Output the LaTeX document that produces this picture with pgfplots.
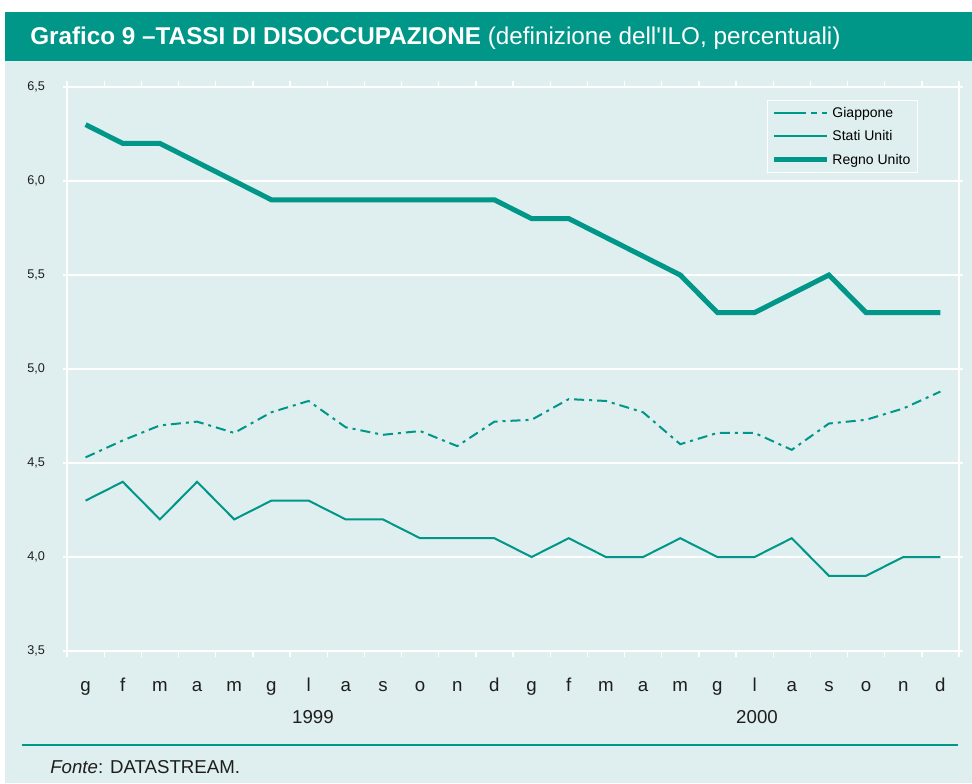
\documentclass[border=0pt]{standalone}
\usepackage{pgfplots}
\pgfplotsset{compat=1.18}
\usepackage{pgfplotstable}
\usepackage{fontspec}
\setmainfont{Liberation Sans}
\definecolor{teal1}{RGB}{0,150,136}
\definecolor{bgc}{RGB}{223,238,238}
\definecolor{txt}{RGB}{30,30,30}

\pgfplotstableread{
x jp us uk
0 4.53 4.3 6.3
1 4.62 4.4 6.2
2 4.70 4.2 6.2
3 4.72 4.4 6.1
4 4.66 4.2 6.0
5 4.77 4.3 5.9
6 4.83 4.3 5.9
7 4.69 4.2 5.9
8 4.65 4.2 5.9
9 4.67 4.1 5.9
10 4.59 4.1 5.9
11 4.72 4.1 5.9
12 4.73 4.0 5.8
13 4.84 4.1 5.8
14 4.83 4.0 5.7
15 4.77 4.0 5.6
16 4.60 4.1 5.5
17 4.66 4.0 5.3
18 4.66 4.0 5.3
19 4.57 4.1 5.4
20 4.71 3.9 5.5
21 4.73 3.9 5.3
22 4.79 4.0 5.3
23 4.88 4.0 5.3
}\datatable

\begin{document}
\begin{tikzpicture}
\begin{scope}[x=0.75pt,y=-0.75pt]
\path[use as bounding box] (0,0) rectangle (972,783);
\fill[white] (0,0) rectangle (972,783);
\fill[bgc] (5,61) rectangle (972,783);
\fill[teal1] (5,12) rectangle (972,61);
\node[anchor=base west, text=white, font=\fontsize{18.2}{20}\selectfont, inner sep=0] at (30,44) {\textbf{Grafico 9 –TASSI DI DISOCCUPAZIONE} (definizione dell\textquotesingle ILO, percentuali)};
\draw[teal1, line width=1.5pt] (22,745) -- (958,745);
\node[anchor=base west, font=\fontsize{14}{16}\selectfont, inner sep=0, text=txt] at (50,773) {\textit{Fonte}: DATASTREAM.};
\node[anchor=base, font=\fontsize{14}{16}\selectfont, inner sep=0, text=txt] at (313,723) {1999};
\node[anchor=base, font=\fontsize{14}{16}\selectfont, inner sep=0, text=txt] at (757,723) {2000};
\end{scope}
\begin{axis}[
  at={(50.25pt,-488.25pt)}, anchor=south west,
  scale only axis, width=669pt, height=423pt,
  xmin=-0.5, xmax=23.5, ymin=3.5, ymax=6.5,
  axis line style={white, line width=1.2pt},
  axis background/.style={fill=bgc},
  ytick={3.5,4,...,6.5},
  ymajorgrids, grid style={white, line width=1.2pt},
  xtick={0,...,23},
  xticklabels={g,f,m,a,m,g,l,a,s,o,n,d,g,f,m,a,m,g,l,a,s,o,n,d},
  minor xtick={-0.5,0.5,...,23.5},
  tick align=outside,
  major tick length=3pt,
  minor tick length=4.5pt,
  major x tick style={draw=none},
  minor x tick style={white, line width=1pt},
  major y tick style={white, line width=1pt},
  tick label style={text=txt},
  xticklabel style={font=\fontsize{14}{16}\selectfont, anchor=base, inner sep=0pt, yshift=-27pt},
  yticklabel style={font=\fontsize{9.5}{11}\selectfont, xshift=-10pt},
  /pgf/number format/assume math mode=true,
  /pgf/number format/.cd, use comma, fixed, fixed zerofill, precision=1,
  /pgfplots/.cd,
  legend style={at={(0.785,0.977)}, anchor=north west, draw=white, fill=bgc,
    font=\fontsize{10.5}{12}\selectfont, row sep=4.5pt, inner sep=3pt},
  legend cell align=left,
  legend image code/.code={\draw[#1] (0pt,0pt) -- (40pt,0pt);},
]
\addplot[teal1, line width=1.5pt, dash pattern=on 7.5pt off 3.75pt on 2.25pt off 3.75pt, forget plot] table[x=x,y=jp] {\datatable};
\addlegendimage{teal1, line width=1.5pt, dash pattern=on 24pt off 3.75pt on 4.5pt off 4pt on 3.5pt off 10pt}
\addlegendentry{Giappone}
\addplot[teal1, line width=1.5pt] table[x=x,y=us] {\datatable};
\addlegendentry{Stati Uniti}
\addplot[teal1, line width=3.75pt] table[x=x,y=uk] {\datatable};
\addlegendentry{Regno Unito}
\end{axis}
\end{tikzpicture}
\end{document}
